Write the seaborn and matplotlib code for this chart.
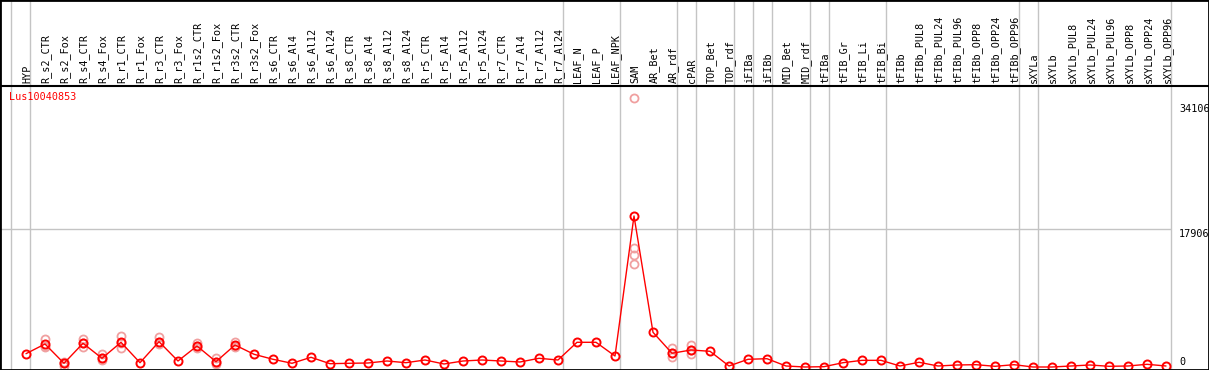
import matplotlib
matplotlib.use("Agg")
import matplotlib.pyplot as plt
import matplotlib.transforms as mtrans
from matplotlib.patches import Rectangle
import pandas as pd
import seaborn as sns

gene = "Lus10040853"

samples = ["HYP", "R_s2_CTR", "R_s2_Fox", "R_s4_CTR", "R_s4_Fox", "R_r1_CTR", "R_r1_Fox",
           "R_r3_CTR", "R_r3_Fox", "R_r1s2_CTR", "R_r1s2_Fox", "R_r3s2_CTR", "R_r3s2_Fox",
           "R_s6_CTR", "R_s6_Al4", "R_s6_Al12", "R_s6_Al24", "R_s8_CTR", "R_s8_Al4",
           "R_s8_Al12", "R_s8_Al24", "R_r5_CTR", "R_r5_Al4", "R_r5_Al12", "R_r5_Al24",
           "R_r7_CTR", "R_r7_Al4", "R_r7_Al12", "R_r7_Al24", "LEAF_N", "LEAF_P", "LEAF_NPK",
           "SAM", "AR_Bet", "AR_rdf", "cPAR", "TOP_Bet", "TOP_rdf", "iFIBa", "iFIBb",
           "MID_Bet", "MID_rdf", "tFIBa", "tFIB_Gr", "tFIB_Li", "tFIB_Bi", "tFIBb",
           "tFIBb_PUL8", "tFIBb_PUL24", "tFIBb_PUL96", "tFIBb_OPP8", "tFIBb_OPP24", "tFIBb_OPP96",
           "sXYLa", "sXYLb", "sXYLb_PUL8", "sXYLb_PUL24", "sXYLb_PUL96", "sXYLb_OPP8",
           "sXYLb_OPP24", "sXYLb_OPP96"]

# mean expression per sample
means = [1726, 2984, 480, 3075, 1130, 3200, 558, 3283, 778, 2725, 688, 2855, 1650,
         1000, 480, 1258, 428, 480, 519, 778, 558, 908, 389, 778, 908, 778, 649, 1129, 908,
         3205, 3205, 1427, 19593, 4502, 1780, 2206, 2037, 130, 999, 1077, 130, 0, 40,
         558, 865, 865, 130, 610, 130, 260, 300, 90, 300, 0, 0, 130, 260, 90, 130, 350, 130]

# individual replicates where they differ visibly from the mean
rep_sample = [1, 1, 1, 2, 2, 2, 3, 3, 3, 4, 4, 4, 5, 5, 5, 7, 7, 7, 9, 9, 9,
              10, 10, 10, 11, 11, 11, 32, 32, 32, 32, 34, 34, 34, 35, 35, 35]
rep_value = [3630, 2720, 2600, 690, 130, 480, 3630, 2560, 3075, 1650, 910, 1130,
             4020, 2500, 3100, 3850, 2980, 3280, 3150, 2420, 2720, 1130, 350, 690,
             3280, 2560, 2720, 34900, 15500, 14500, 13400, 2420, 1340, 1780, 2855, 1650, 2206]

# axis labels on the right
scale_ticks = [0, 17906, 34106]

# samples that start a new tissue group (separator lines)
group_starts = [0, 1, 29, 32, 35, 36, 38, 39, 40, 42, 43, 46, 53, 54, 61]

sns.set_style("white")
plt.rcParams["font.family"] = ["DejaVu Sans Mono"]

W, H = 1209, 370
fig = plt.figure(figsize=(W / 100, H / 100), dpi=100)
ax = fig.add_axes([0, 1 / H, 1, (H - 86 - 1) / H])

df = pd.DataFrame({"pos": range(len(samples)), "value": means})
reps = pd.DataFrame({"pos": rep_sample, "value": rep_value})

# faded replicate circles
sns.lineplot(data=reps, x="pos", y="value", ax=ax, linestyle="", marker="o",
             estimator=None, units=range(len(reps)), mfc="none", mec="#f0a0a0",
             mew=1.3, ms=5.8, color="#f0a0a0", zorder=2, legend=False)
# mean line
sns.lineplot(data=df, x="pos", y="value", ax=ax, color="red", lw=1.0, marker="o",
             mfc="none", mec="red", mew=1.4, ms=5.8, zorder=3, legend=False)

ax.set_xlim(-26 / 19, (W - 26) / 19)
ax.set_ylim(-260, 36460)
ax.set_xticks([])
ax.set_yticks([])
ax.set_xlabel("")
ax.set_ylabel("")
for side in ["left", "right", "bottom"]:
    ax.spines[side].set_visible(False)
ax.spines["top"].set_linewidth(1.5)
ax.spines["top"].set_color("black")

sep_x = [g - 14.5 / 19 for g in group_starts]
full = mtrans.blended_transform_factory(ax.transData, fig.transFigure)
ax.vlines(sep_x, 0, 1, transform=full, color="#c4c4c4", lw=1.0, clip_on=False, zorder=1)
ax.hlines(17906, ax.get_xlim()[0], sep_x[-1], color="#c4c4c4", lw=1.0, zorder=1)

# sample names, rotated
for i, name in enumerate(samples):
    ax.text(i + 0.05, (H - 83) / H, name, transform=full, rotation=90, ha="center",
            va="bottom", fontsize=7.3, color="black")

fig.text(9 / W, (H - 92) / H, gene, color="red", fontsize=7.3, ha="left", va="top")

right = mtrans.blended_transform_factory(fig.transFigure, ax.transData)
for v in scale_ticks:
    ax.text(1179 / W, v, str(v), transform=right, fontsize=7.3, ha="left",
            va="bottom" if v == 0 else "top", color="black")

fig.patches.append(Rectangle((0, 0), 1, 1, transform=fig.transFigure, fill=False,
                             edgecolor="black", lw=2.0))

fig.savefig("out.png", dpi=100)
